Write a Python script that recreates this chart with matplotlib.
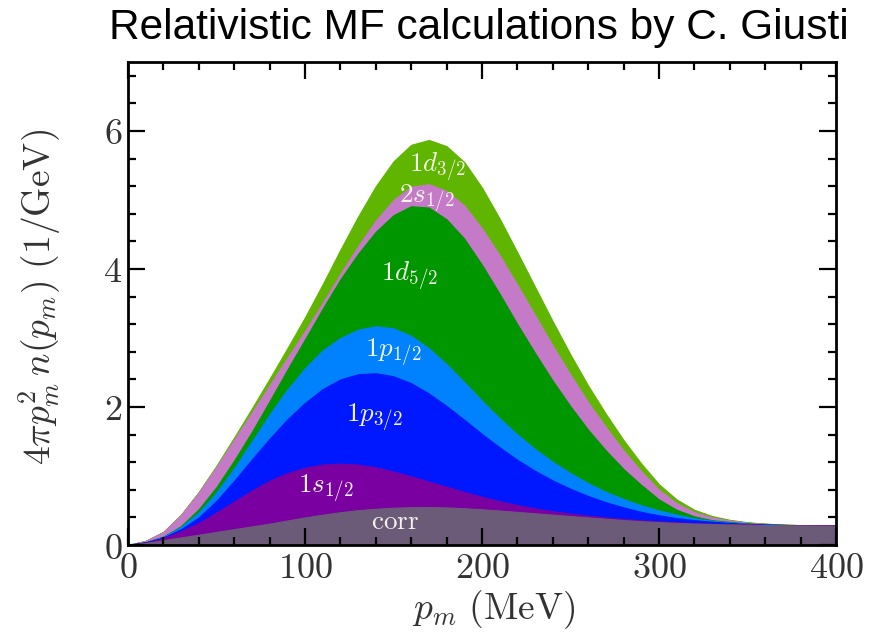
import matplotlib
matplotlib.use('Agg')
import matplotlib.pyplot as plt
from matplotlib.ticker import MultipleLocator, FuncFormatter
import numpy as np

plt.rcParams['mathtext.fontset'] = 'cm'

# missing momentum grid (MeV)
p_m = list(range(0, 401, 10))

# upper edge of each stacked band, 4 pi p^2 n(p) in 1/GeV
top_corr = [0, 0.03, 0.07, 0.11, 0.15, 0.19, 0.23, 0.27, 0.31, 0.355, 0.40, 0.44, 0.475,
            0.505, 0.525, 0.54, 0.548, 0.55, 0.545, 0.533, 0.518, 0.50, 0.48, 0.46, 0.44,
            0.42, 0.40, 0.38, 0.362, 0.345, 0.332, 0.32, 0.311, 0.304, 0.298, 0.294, 0.29,
            0.287, 0.284, 0.282, 0.28]
top_1s12 = [0, 0.035, 0.10, 0.20, 0.32, 0.47, 0.63, 0.79, 0.93, 1.04, 1.12, 1.165, 1.18,
            1.165, 1.125, 1.065, 0.995, 0.92, 0.845, 0.77, 0.70, 0.635, 0.58, 0.53, 0.49,
            0.455, 0.425, 0.40, 0.378, 0.358, 0.342, 0.328, 0.317, 0.308, 0.301, 0.295,
            0.29, 0.287, 0.284, 0.282, 0.28]
top_1p32 = [0, 0.037, 0.11, 0.23, 0.40, 0.64, 0.93, 1.24, 1.54, 1.82, 2.06, 2.26, 2.40,
            2.475, 2.49, 2.445, 2.345, 2.195, 2.015, 1.815, 1.61, 1.415, 1.235, 1.075, 0.935,
            0.815, 0.71, 0.62, 0.545, 0.48, 0.43, 0.39, 0.36, 0.337, 0.318, 0.305, 0.296,
            0.29, 0.286, 0.282, 0.28]
top_1p12 = [0, 0.04, 0.12, 0.26, 0.47, 0.76, 1.11, 1.50, 1.89, 2.25, 2.56, 2.82, 3.00,
            3.12, 3.17, 3.14, 3.03, 2.85, 2.62, 2.36, 2.09, 1.835, 1.60, 1.39, 1.205, 1.04,
            0.895, 0.77, 0.665, 0.575, 0.50, 0.44, 0.385, 0.35, 0.325, 0.308, 0.297, 0.29,
            0.285, 0.282, 0.28]
top_1d52 = [0, 0.04, 0.12, 0.275, 0.52, 0.84, 1.225, 1.64, 2.085, 2.54, 2.98, 3.425, 3.85,
            4.22, 4.54, 4.78, 4.91, 4.89, 4.72, 4.44, 4.06, 3.64, 3.20, 2.78, 2.38, 2.01,
            1.67, 1.37, 1.10, 0.87, 0.66, 0.51, 0.415, 0.36, 0.335, 0.312, 0.30, 0.291,
            0.286, 0.283, 0.28]
top_2s12 = [0, 0.06, 0.188, 0.435, 0.76, 1.13, 1.525, 1.92, 2.315, 2.71, 3.10, 3.51, 3.93,
            4.33, 4.70, 5.00, 5.19, 5.23, 5.13, 4.92, 4.59, 4.20, 3.77, 3.33, 2.89, 2.47,
            2.07, 1.71, 1.37, 1.07, 0.80, 0.605, 0.475, 0.40, 0.355, 0.324, 0.306, 0.294,
            0.288, 0.284, 0.28]
top_1d32 = [0, 0.06, 0.19, 0.44, 0.77, 1.15, 1.56, 1.98, 2.41, 2.85, 3.30, 3.78, 4.28,
            4.76, 5.20, 5.56, 5.80, 5.87, 5.78, 5.55, 5.18, 4.73, 4.24, 3.74, 3.24, 2.76,
            2.31, 1.90, 1.52, 1.18, 0.88, 0.66, 0.51, 0.42, 0.365, 0.33, 0.31, 0.296, 0.289,
            0.284, 0.28]

edges = [top_corr, top_1s12, top_1p32, top_1p12, top_1d52, top_2s12, top_1d32]
colors = ['#6b5a78', '#7a00a2', '#0018ff', '#0082ff', '#009600', '#c47ac6', '#5fb500']

# band labels and where they sit (MeV, 1/GeV)
labels = [r'$\mathrm{corr}$', r'$1s_{1/2}$', r'$1p_{3/2}$', r'$1p_{1/2}$',
          r'$1d_{5/2}$', r'$2s_{1/2}$', r'$1d_{3/2}$']
label_x = [151, 112, 139, 150, 159, 169, 175]
label_y = [0.33, 0.83, 1.86, 2.80, 3.90, 5.03, 5.48]

fig = plt.figure(figsize=(8.9, 6.39), dpi=100)
ax = fig.add_axes([0.1438, 0.1471, 0.7955, 0.7559])

# draw from the top band down so each band covers the seam of the one above it
lowers = [[0] * len(p_m)] + edges[:-1]
for lower, upper, col in reversed(list(zip(lowers, edges, colors))):
    ax.fill_between(p_m, lower, upper, facecolor=col, edgecolor=col, linewidth=0.8)

for txt, lx, ly in zip(labels, label_x, label_y):
    ax.text(lx, ly, txt, color='#f4f4ea', fontsize=19.5, ha='center', va='center')

ax.set_xlim(0, 400)
ax.set_ylim(0, 7)
ax.xaxis.set_major_locator(MultipleLocator(100))
ax.xaxis.set_minor_locator(MultipleLocator(20))
ax.yaxis.set_major_locator(MultipleLocator(2))
ax.yaxis.set_minor_locator(MultipleLocator(0.4))
fmt = FuncFormatter(lambda v, pos: '$%g$' % v)
ax.xaxis.set_major_formatter(fmt)
ax.yaxis.set_major_formatter(fmt)
ax.tick_params(which='both', direction='in', top=True, right=True, width=1.6,
               labelsize=26, labelcolor='#333333')
ax.tick_params(which='major', length=12, pad=4)
ax.tick_params(which='minor', length=6)
for sp in ax.spines.values():
    sp.set_linewidth(2)
    sp.set_zorder(5)
ax.set_axisbelow(False)

ax.set_xlabel(r'$p_m\ (\mathrm{MeV})$', fontsize=27, color='#333333')
ax.set_ylabel(r'$4\pi p_m^2\, n(p_m)\ (1/\mathrm{GeV})$', fontsize=27, color='#333333')
ax.xaxis.set_label_coords(0.517, -0.09)
ax.yaxis.set_label_coords(-0.092, 0.513)

fig.text(0.538, 0.956, 'Relativistic MF calculations by C. Giusti',
         family='Liberation Sans', fontsize=30.5, ha='center', va='center')

fig.savefig('out.png', dpi=100)
